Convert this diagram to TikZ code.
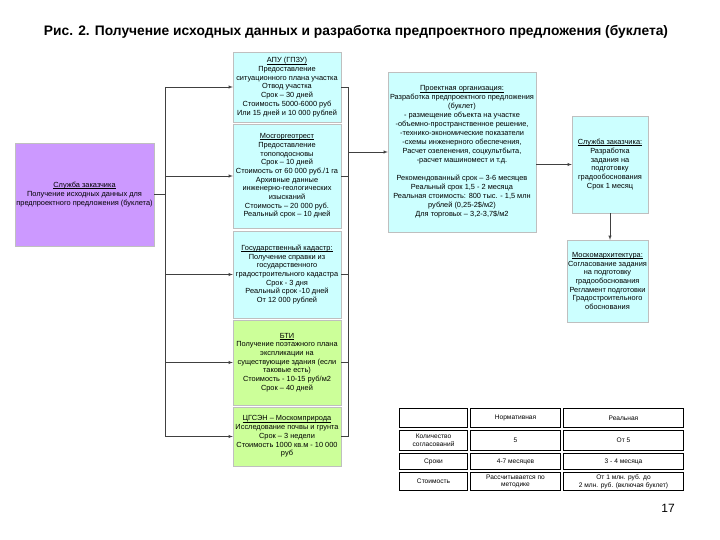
\documentclass[tikz,border=0pt]{standalone}
\usepackage{fontspec}
\setmainfont{Liberation Sans}
\definecolor{boxcyan}{RGB}{204,255,255}
\definecolor{boxgreen}{RGB}{204,255,153}
\definecolor{boxviolet}{RGB}{204,153,255}
% heading with a close underline
\newcommand{\hdr}[1]{\setbox0=\hbox{#1}\rlap{\rule[-1.1pt]{\wd0}{0.35pt}}\box0}
\begin{document}
\begin{tikzpicture}[x=1pt, y=-1pt, >=latex,
  every node/.style={font=\fontsize{7.4}{8.7}\selectfont},
  blk/.style={inner sep=1pt, align=center, draw=black!25, line width=0.3pt},
  cell/.style={draw, line width=0.8pt, inner sep=1pt, align=center, font=\fontsize{6.6}{7.6}\selectfont},
  link/.style={black!75, line width=0.5pt}]
  \useasboundingbox (0,0) rectangle (720,540);
  \node[font=\fontsize{13.8}{16}\selectfont\bfseries] (title) at (356,32)
    {Рис. 2. Получение исходных данных и разработка предпроектного предложения (буклета)};
  % customer service
  \node[blk, fill=boxviolet, minimum width=139, minimum height=103] (pz) at (84.5,194.5)
    {\hdr{Служба заказчика}\\Получение исходных данных для\\предпроектного предложения (буклета)};
  % middle column
  \node[blk, fill=boxcyan, minimum width=108, minimum height=70] (apu) at (287,87)
    {\hdr{АПУ (ГПЗУ)}\\Предоставление\\ситуационного плана участка\\Отвод участка\\Срок -- 30 дней\\Стоимость 5000-6000 руб\\Или 15 дней и 10 000 рублей};
  \node[blk, fill=boxcyan, minimum width=108, minimum height=104] (mgt) at (287,176)
    {\hdr{Мосгоргеотрест}\\Предоставление\\топоподосновы\\Срок -- 10 дней\\Стоимость от 60 000 руб./1 га\\Архивные данные\\инженерно-геологических\\изысканий\\Стоимость -- 20 000 руб.\\Реальный срок -- 10 дней};
  \node[blk, fill=boxcyan, minimum width=108, minimum height=87] (kad) at (287,274.5)
    {\hdr{Государственный кадастр:}\\Получение справки из\\государственного\\градостроительного кадастра\\Срок - 3 дня\\Реальный срок -10 дней\\От 12 000 рублей};
  \node[blk, fill=boxgreen, minimum width=108, minimum height=85] (bti) at (287,362.5)
    {\hdr{БТИ}\\Получение поэтажного плана\\экспликации на\\существующие здания (если\\таковые есть)\\Стоимость - 10-15 руб/м2\\Срок -- 40 дней};
  \node[blk, fill=boxgreen, minimum width=108, minimum height=59] (gsn) at (287,436.5)
    {\hdr{ЦГСЭН -- Москомприрода}\\Исследование почвы и грунта\\Срок -- 3 недели\\Стоимость 1000 кв.м - 10 000\\руб};
  % design organisation
  \node[blk, fill=boxcyan, minimum width=148, minimum height=160,
    font=\fontsize{7.4}{9}\selectfont] (pro) at (462,152)
    {\hdr{Проектная организация:}\\Разработка предпроектного предложения\\(буклет)\\- размещение объекта на участке\\-объемно-пространственное решение,\\-технико-экономические показатели\\-схемы инженерного обеспечения,\\Расчет озеленения, соцкультбыта,\\-расчет машиномест и т.д.\\[9pt]Рекомендованный срок -- 3-6 месяцев\\Реальный срок 1,5 - 2 месяца\\Реальная стоимость: 800 тыс. - 1,5 млн\\рублей (0,25-2\$/м2)\\Для торговых -- 3,2-3,7\$/м2};
  % right column
  \node[blk, fill=boxcyan, minimum width=76, minimum height=97] (zk) at (610,164.5)
    {\hdr{Служба заказчика:}\\Разработка\\задания на\\подготовку\\градообоснования\\Срок 1 месяц};
  \node[blk, fill=boxcyan, minimum width=81, minimum height=82] (mka) at (607.5,281)
    {\hdr{Москомархитектура:}\\Согласование задания\\на подготовку\\градообоснования\\Регламент подготовки\\Градостроительного\\обоснования};
  % connectors
  \coordinate (lbus) at (165,0);
  \coordinate (rbus) at (348,0);
  \draw[link] (pz.east) -- (lbus |- pz.east);
  \draw[link] (lbus |- apu.west) -- (lbus |- gsn.west);
  \draw[link, ->] (lbus |- apu.west) -- (apu.west);
  \draw[link, ->] (lbus |- mgt.west) -- (mgt.west);
  \draw[link, ->] (lbus |- kad.west) -- (kad.west);
  \draw[link, ->] (lbus |- bti.west) -- (bti.west);
  \draw[link, ->] (lbus |- gsn.west) -- (gsn.west);
  \draw[link] (apu.east) -- (rbus |- apu.east);
  \draw[link] (mgt.east) -- (rbus |- mgt.east);
  \draw[link] (kad.east) -- (rbus |- kad.east);
  \draw[link] (bti.east) -- (rbus |- bti.east);
  \draw[link] (gsn.east) -- (rbus |- gsn.east);
  \draw[link] (rbus |- apu.east) -- (rbus |- gsn.east);
  \draw[link, ->] (rbus |- pro.west) -- (pro.west);
  \draw[link, ->] (pro.east |- zk.west) -- (zk.west);
  \draw[link, ->] (zk.south) -- (zk.south |- mka.north);
  % comparison table
  \node[cell, minimum width=68, minimum height=19] (t00) at (433.5,418) {};
  \node[cell, minimum width=90, minimum height=19] (t01) at (515.5,418) {Нормативная};
  \node[cell, minimum width=120, minimum height=19] (t02) at (623.5,418) {Реальная};
  \node[cell, minimum width=68, minimum height=20] (t10) at (433.5,440.5) {Количество\\согласований};
  \node[cell, minimum width=90, minimum height=20] (t11) at (515.5,440.5) {5};
  \node[cell, minimum width=120, minimum height=20] (t12) at (623.5,440.5) {От 5};
  \node[cell, minimum width=68, minimum height=16] (t20) at (433.5,461.5) {Сроки};
  \node[cell, minimum width=90, minimum height=16] (t21) at (515.5,461.5) {4-7 месяцев};
  \node[cell, minimum width=120, minimum height=16] (t22) at (623.5,461.5) {3 - 4 месяца};
  \node[cell, minimum width=68, minimum height=18] (t30) at (433.5,481.5) {Стоимость};
  \node[cell, minimum width=90, minimum height=18] (t31) at (515.5,481.5) {Рассчитывается по\\методике};
  \node[cell, minimum width=120, minimum height=18] (t32) at (623.5,481.5) {От 1 млн. руб. до\\2 млн. руб. (включая буклет)};
  \node[font=\fontsize{12}{14}\selectfont] (page) at (668,508) {17};
\end{tikzpicture}
\end{document}
